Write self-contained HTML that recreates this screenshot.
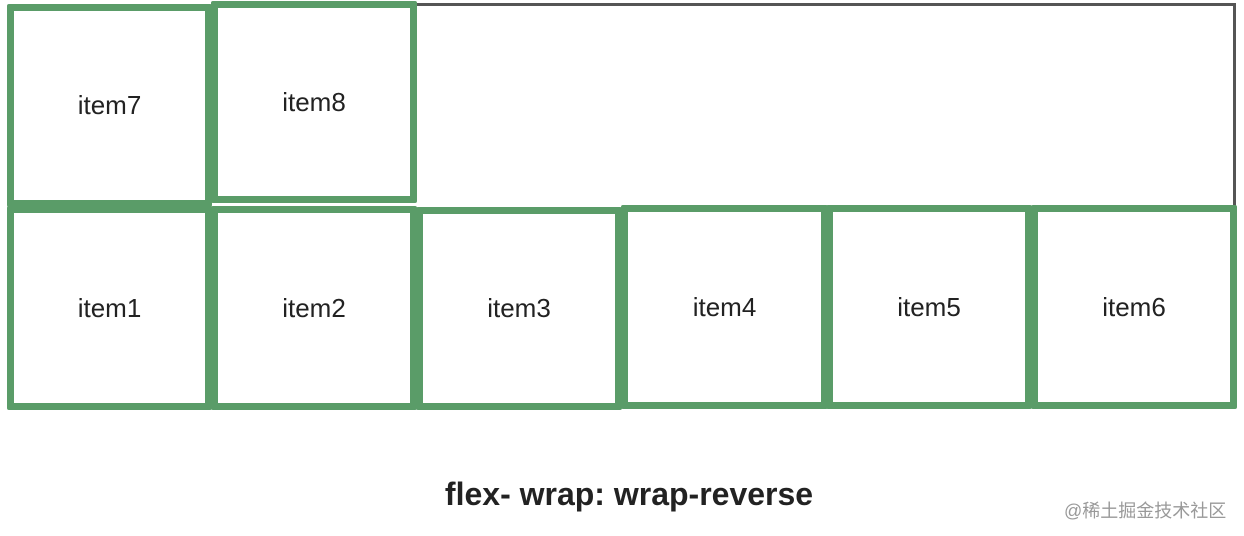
<!DOCTYPE html>
<html><head><meta charset="utf-8"><style>
body{margin:0;width:1244px;height:536px;background:#fff;position:relative;overflow:hidden;font-family:"Liberation Sans",sans-serif}
.c{position:absolute;left:410px;top:3px;width:826px;height:204px;border-top:3px solid #555;border-right:3px solid #555;box-sizing:border-box}
.b{position:absolute;box-sizing:border-box;border:7px solid #5a9c68;background:#fff;display:flex;align-items:center;justify-content:center;font-size:26px;color:#222;border-radius:2px}
.t{position:absolute;left:0;width:1258px;top:476px;text-align:center;font-weight:bold;font-size:32px;color:#222}
.w{position:absolute;left:1064px;top:497px;font-size:18px;color:#999;font-family:"Liberation Sans","Noto Sans CJK SC",sans-serif}
</style></head><body>
<div class="c"></div>
<div class="b" style="left:7px;top:4px;width:205px;height:203px">item7</div>
<div class="b" style="left:211px;top:1px;width:206px;height:202px">item8</div>
<div class="b" style="left:7px;top:206px;width:205px;height:204px">item1</div>
<div class="b" style="left:211px;top:206px;width:206px;height:204px">item2</div>
<div class="b" style="left:416px;top:207px;width:206px;height:203px">item3</div>
<div class="b" style="left:621px;top:205px;width:207px;height:204px">item4</div>
<div class="b" style="left:826px;top:205px;width:206px;height:204px">item5</div>
<div class="b" style="left:1031px;top:205px;width:206px;height:204px">item6</div>
<div class="t">flex- wrap: wrap-reverse</div>
<div class="w">@稀土掘金技术社区</div>
</body></html>
